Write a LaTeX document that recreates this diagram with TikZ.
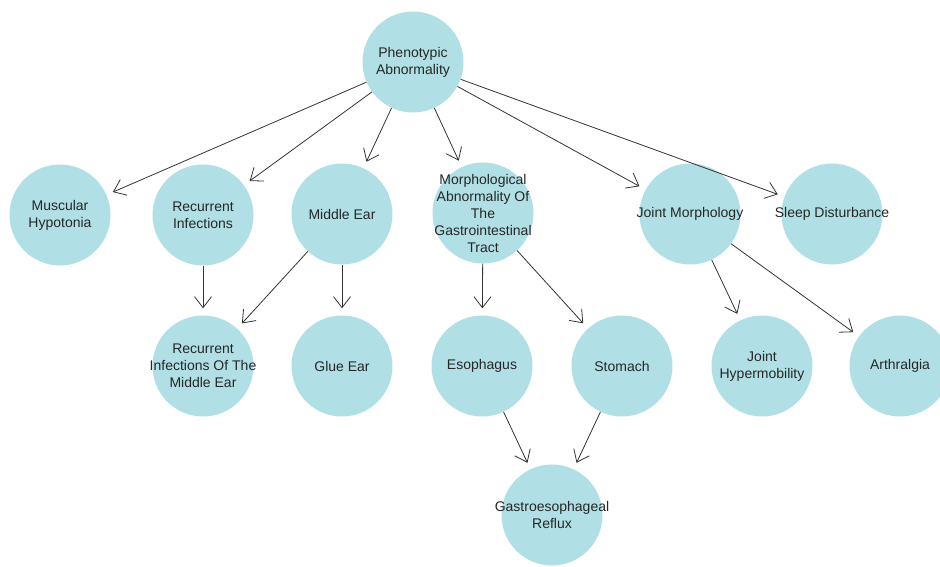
\documentclass[tikz,border=0pt]{standalone}
\usepackage{fontspec}
\setmainfont{Liberation Sans}
\usetikzlibrary{arrows.meta}

\begin{document}
\begin{tikzpicture}[
    x=1pt, y=1pt,
    termtext/.style={align=center, font=\fontsize{14}{17}\selectfont, text=black!85, inner sep=0pt},
    term/.style={circle, fill=termblue, minimum size=101pt, inner sep=0pt, label={[termtext]center:{#1}}},
    arrow/.style={-{Straight Barb[length=11pt, width=17pt]}, draw=black!80, line width=0.8pt, shorten >=7pt}
]
\definecolor{termblue}{HTML}{B0E0E6}
\clip (0,0) rectangle (940,-566);

% Top term
\node[term={Phenotypic\\Abnormality}] (PA) at (413,-62) {};

% First level
\node[term={Muscular\\Hypotonia}] (MH) at (60,-215) {};
\node[term={Recurrent\\Infections}] (RI) at (203,-215) {};
\node[term={Middle Ear}] (ME) at (342,-214) {};
\node[term={Morphological\\Abnormality Of\\The\\Gastrointestinal\\Tract}] (MA) at (483,-213) {};
\node[term={Joint Morphology}] (JM) at (690,-214) {};
\node[term={Sleep Disturbance}] (SD) at (832,-214) {};

% Second level
\node[term={Recurrent\\Infections Of The\\Middle Ear}] (RIME) at (203,-366) {};
\node[term={Glue Ear}] (GE) at (342,-366) {};
\node[term={Esophagus}] (ES) at (482,-366) {};
\node[term={Stomach}] (ST) at (622,-366) {};
\node[term={Joint\\Hypermobility}] (JH) at (762,-366) {};
\node[term={Arthralgia}] (AR) at (900,-366) {};

% Third level
\node[term={Gastroesophageal\\Reflux}] (GR) at (552,-515) {};

% Edges
\draw[arrow] (PA) -- (MH);
\draw[arrow] (PA) -- (RI);
\draw[arrow] (PA) -- (ME);
\draw[arrow] (PA) -- (MA);
\draw[arrow] (PA) -- (JM);
\draw[arrow] (PA) -- (SD);
\draw[arrow] (RI) -- (RIME);
\draw[arrow] (ME) -- (RIME);
\draw[arrow] (ME) -- (GE);
\draw[arrow] (MA) -- (ES);
\draw[arrow] (MA) -- (ST);
\draw[arrow] (JM) -- (JH);
\draw[arrow] (JM) -- (AR);
\draw[arrow] (ES) -- (GR);
\draw[arrow] (ST) -- (GR);

\end{tikzpicture}
\end{document}
